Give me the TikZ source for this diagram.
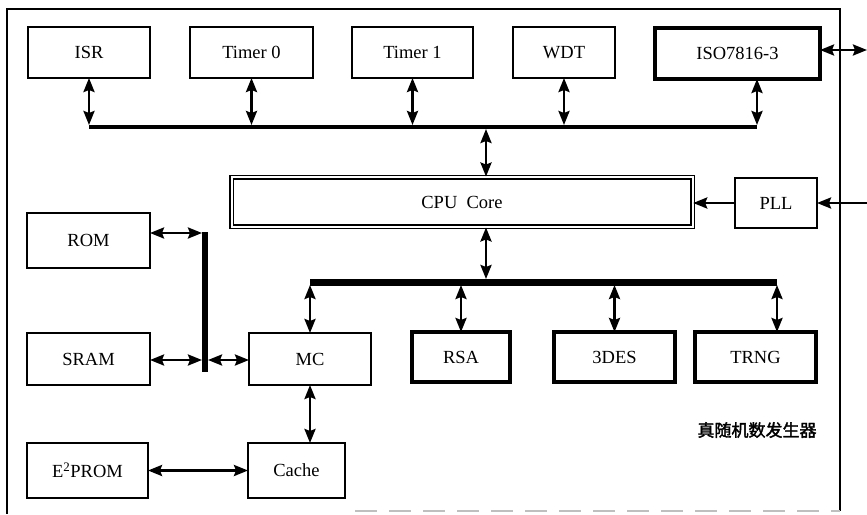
\documentclass[tikz,border=0pt]{standalone}
\usepackage{fontspec}
\setmainfont{Liberation Serif}
\newfontfamily\cjk[AutoFakeBold=2]{Noto Sans CJK SC}
\usetikzlibrary{arrows.meta}
\tikzset{
  hd/.tip={Stealth[length=14pt,width=11pt,inset=2pt]}
}
\begin{document}
\begin{tikzpicture}[x=1pt,y=-1pt,
  font=\fontsize{18.5}{22}\selectfont,
  blk/.style={draw, line width=1.9pt, inner sep=0pt, outer sep=0pt},
  hblk/.style={draw, line width=4.5pt, inner sep=0pt, outer sep=0pt},
  arr/.style={line width=2.6pt, -hd},
  dbl/.style={line width=2.6pt, hd-hd},
  busline/.style={line width=#1, line cap=butt}]
\useasboundingbox (0,0) rectangle (867,514);

% outer frame
\draw[line width=2.2pt] (840,511) -- (840,9) -- (7,9) -- (7,514);
\draw[line width=1.5pt, black!25, dash pattern=on 22pt off 12pt] (355,511) -- (840,511);

% peripheral row
\node[blk, minimum width=122pt, minimum height=51pt] (isr) at (89,52.5) {ISR};
\node[blk, minimum width=123pt, minimum height=51pt] (tm0) at (251.5,52.5) {Timer 0};
\node[blk, minimum width=121pt, minimum height=51pt] (tm1) at (412.5,52.5) {Timer 1};
\node[blk, minimum width=102pt, minimum height=51pt] (wdt) at (564,52.5) {WDT};
\node[hblk, minimum width=165pt, minimum height=51pt] (iso) at (737.5,53.5) {ISO7816-3};

% core and clock
\node[draw, double, line width=1.4pt, double distance=2pt, inner sep=0pt,
      minimum width=461pt, minimum height=49.5pt] (cpu) at (462,202) {CPU\ \ Core};
\node[blk, minimum width=82pt, minimum height=50pt] (pll) at (776,203) {PLL};

% memories
\node[blk, minimum width=123pt, minimum height=55pt] (rom) at (88.5,240.5) {ROM};
\node[blk, minimum width=123pt, minimum height=52pt] (sram) at (88.5,359) {SRAM};
\node[blk, minimum width=121pt, minimum height=55pt] (eep) at (87.5,470.5) {E\textsuperscript{2}PROM};
\node[blk, minimum width=122pt, minimum height=52pt] (mc) at (310,359) {MC};
\node[blk, minimum width=97pt, minimum height=55pt] (cache) at (296.5,470.5) {Cache};

% coprocessors
\node[hblk, minimum width=98pt, minimum height=50pt] (rsa) at (461,357) {RSA};
\node[hblk, minimum width=121pt, minimum height=50pt] (des) at (614.5,357) {3DES};
\node[hblk, minimum width=121pt, minimum height=50pt] (trng) at (755.5,357) {TRNG};
\node[font=\cjk\bfseries\fontsize{17}{20}\selectfont] (trnglbl) at (757,430) {真随机数发生器};

% bus end points
\coordinate (tb1) at (89,127);
\coordinate (tb2) at (757,127);
\coordinate (tbc) at (486,127);
\coordinate (lb1) at (310,282);
\coordinate (lb2) at (777,282);
\coordinate (lbc) at (486,282);
\coordinate (vb1) at (205,232);
\coordinate (vb2) at (205,372);
\coordinate (romln) at (205,233);
\coordinate (sramln) at (205,360);
\coordinate (isoout) at (867,50);
\coordinate (pllin) at (867,203);

% peripheral bus
\draw[dbl, shorten >=2pt] (isr.south) -- (isr.south |- tb1);
\draw[dbl, shorten >=2pt] (tm0.south) -- (tm0.south |- tb1);
\draw[dbl, shorten >=2pt] (tm1.south) -- (tm1.south |- tb1);
\draw[dbl, shorten >=2pt] (wdt.south) -- (wdt.south |- tb1);
\draw[dbl, shorten <=2pt] (tb2) -- (tb2 |- iso.south);
\draw[dbl, shorten <=2pt] (tbc) -- (tbc |- cpu.north);
\draw[busline=4.5pt] (tb1) -- (tb2);

% external links
\draw[dbl] (iso.east |- isoout) -- (isoout);
\draw[arr] (pll.west) -- (pll.west -| cpu.east);
\draw[arr] (pllin) -- (pll.east);

% coprocessor bus
\draw[dbl, shorten >=3pt] (cpu.south -| lbc) -- (lbc);
\draw[dbl, shorten <=3pt] (lb1) -- (mc.north);
\draw[dbl, shorten <=3pt] (rsa.north |- lb1) -- (rsa.north);
\draw[dbl, shorten <=3pt] (des.north |- lb1) -- (des.north);
\draw[dbl, shorten <=3pt] (lb2) -- (lb2 |- trng.north);
\draw[busline=7pt] (lb1) -- (lb2);

% memory bus
\draw[dbl, shorten >=3pt] (rom.east |- romln) -- (romln);
\draw[dbl, shorten >=3pt] (sram.east |- sramln) -- (sramln);
\draw[dbl, shorten <=3pt] (sramln) -- (sramln -| mc.west);
\draw[busline=6.5pt] (vb1) -- (vb2);
\draw[dbl] (mc.south) -- (mc.south |- cache.north);
\draw[dbl] (eep.east) -- (cache.west);
\end{tikzpicture}
\end{document}
